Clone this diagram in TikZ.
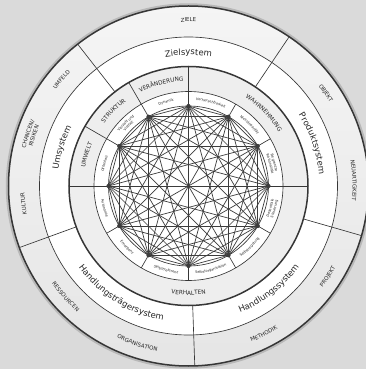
\documentclass[tikz,border=0pt]{standalone}
\usepackage{fontspec}
\setmainfont{DejaVu Sans}
\usepackage{xcolor}
\usepackage{tikz}
\usetikzlibrary{decorations.text}

\definecolor{bggray}{HTML}{DADADA}
\definecolor{ringgray}{HTML}{EEEEEE}
\definecolor{linegray}{HTML}{363636}
\definecolor{edgegray}{HTML}{3C3C3C}
\definecolor{labelgray}{HTML}{262626}

\tikzset{
  thinring/.style={draw=linegray, line width=0.65pt},
  boldring/.style={draw=linegray, line width=1.5pt},
  divider/.style={draw=linegray, line width=0.65pt},
  edge/.style={draw=edgegray, line width=0.7pt},
  vertex/.style={circle, fill=edgegray, inner sep=0pt, minimum size=4.2pt},
}

% text on an arc, read clockwise (upper half)
\newcommand{\cwtext}[4]{%
  \path[decorate, decoration={text along path, text align=center,
      text={|\fontsize{#3}{#3}\selectfont\color{labelgray}|#4}}]
    (#1+70:#2) arc[start angle=#1+70, end angle=#1-70, radius=#2];}
% text on an arc, read counter-clockwise (lower half)
\newcommand{\ccwtext}[4]{%
  \path[decorate, decoration={text along path, text align=center,
      text={|\fontsize{#3}{#3}\selectfont\color{labelgray}|#4}}]
    (#1-70:#2) arc[start angle=#1-70, end angle=#1+70, radius=#2];}

\begin{document}
\begin{tikzpicture}[x=1pt, y=1pt]
				% Background and rings:
				\fill[bggray] (-188.5,-183) rectangle (177.5,186);
				\useasboundingbox (-188.5,-183) rectangle (177.5,186);
				\draw[color=black!28, line width=2.6pt] (0,0) circle[radius=181.4];
				\shade[top color=black!4, bottom color=black!10] (0,0) circle[radius=180];
				\fill[white] (0,0) circle[radius=149];
				\fill[ringgray] (0,0) circle[radius=119.5];
				\fill[white] (0,0) circle[radius=94.5];
				\draw[thinring] (0,0) circle[radius=149];
				\draw[thinring] (0,0) circle[radius=94.5];
				\draw[thinring] (0,0) circle[radius=80];
				\draw[boldring] (0,0) circle[radius=119.5];
				\draw[boldring] (0,0) circle[radius=180];
				% Dividers:
				\foreach \a in {56,128,200,272,344}
					\draw[divider] (\a:119.5) -- (\a:180);
				\foreach \a in {0,90,120,150,180}
					\draw[divider] (\a:94.5) -- (\a:119.5);
				\foreach \a in {0,30,...,330}
					\draw[divider] (\a:80) -- (\a:94.5);
				% Network of the twelve points:
				\foreach \i in {0,...,11}
					\node[vertex] (p\i) at (\i*30:80) {};
				\foreach \i in {0,...,10} {
					\pgfmathtruncatemacro{\nxt}{\i+1}
					\foreach \j in {\nxt,...,11}
						\draw[edge] (p\i.center) -- (p\j.center);
				}
				% Outer ring:
				\cwtext{90}{164}{5.5}{ZIELE}
				\cwtext{34}{164}{5.5}{OBJEKT}
				\cwtext{2}{164}{5.5}{NEUARTIGKEIT}
				\ccwtext{-33}{168}{5.5}{PROJEKT}
				\ccwtext{-63}{168}{5.5}{METHODIK}
				\ccwtext{-108}{168}{5.5}{ORGANISATION}
				\ccwtext{-138}{168}{5.5}{RESSOURCEN}
				\cwtext{186}{164}{5.5}{KULTUR}
				\cwtext{162}{167.2}{5.5}{CHANCEN/}
				\cwtext{162}{160.8}{5.5}{RISIKEN}
				\cwtext{140}{164}{5.5}{UMFELD}
				% Systems:
				\cwtext{90}{131}{8.5}{Zielsystem}
				\cwtext{19}{131}{8.5}{Produktsystem}
				\ccwtext{-52}{137}{8.5}{Handlungssystem}
				\ccwtext{-122}{137}{8.5}{Handlungsträgersystem}
				\cwtext{163}{131}{8.5}{Umsystem}
				% Grey ring:
				\cwtext{44}{105}{5.8}{WAHRNEHMUNG}
				\cwtext{105}{105}{5.8}{VERÄNDERUNG}
				\cwtext{135}{105}{5.8}{STRUKTUR}
				\cwtext{163}{105}{5.8}{UMWELT}
				\ccwtext{-90}{109}{5.8}{VERHALTEN}
				% Inner ring:
				\cwtext{75}{85.8}{3.5}{Vorhersehbarkeit}
				\cwtext{45}{85.8}{3.5}{Nichtlinearität}
				\cwtext{15}{87.9}{3.5}{Begrenzte}
				\cwtext{15}{83.7}{3.5}{Rationalität}
				\ccwtext{-15}{86.1}{3.5}{Dezentrale}
				\ccwtext{-15}{90.3}{3.5}{Steuerung}
				\ccwtext{-45}{88.2}{3.5}{Selbstregelung}
				\ccwtext{-75}{88.2}{3.5}{Selbstorganisation}
				\ccwtext{-105}{88.2}{3.5}{Selbstreferenz}
				\ccwtext{-135}{88.2}{3.5}{Emergenz}
				\ccwtext{-165}{88.2}{3.5}{Autonomie}
				\cwtext{165}{85.8}{3.5}{Offenheit}
				\cwtext{135}{87.9}{3.5}{Vielzahl und}
				\cwtext{135}{83.7}{3.5}{Vielfalt}
				\cwtext{105}{85.8}{3.5}{Dynamik}
			\end{tikzpicture}
\end{document}
